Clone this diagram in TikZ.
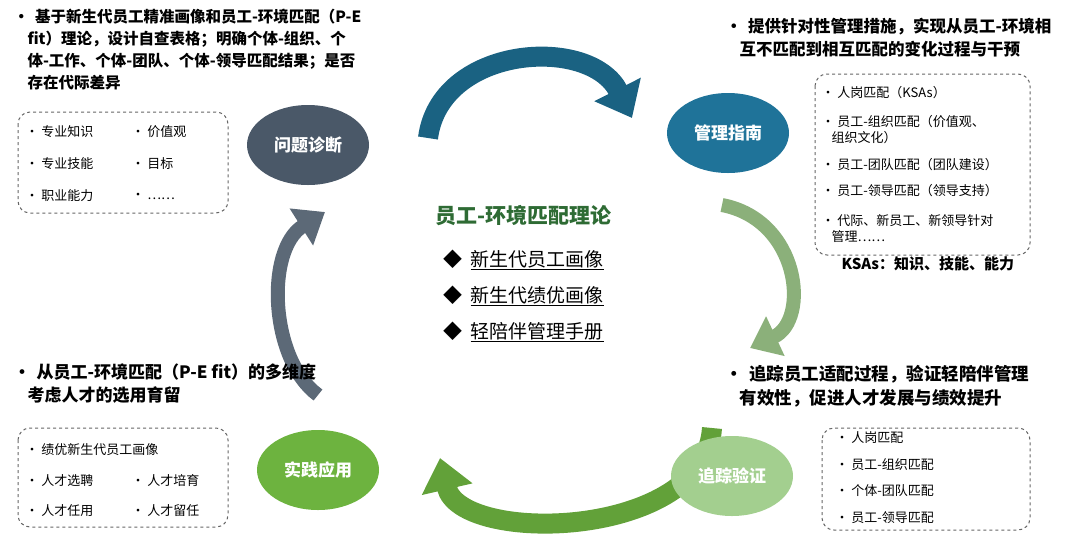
\documentclass[tikz,border=0pt]{standalone}
\usepackage{fontspec}
\setmainfont{Noto Sans CJK SC}
\usetikzlibrary{arrows.meta,shapes.geometric}
\definecolor{cA}{HTML}{4A5868}
\definecolor{cB}{HTML}{1F7399}
\definecolor{cC}{HTML}{6DB33F}
\definecolor{cD}{HTML}{A3CF8F}
\definecolor{titleg}{HTML}{2E6B34}
\tikzset{
 ell/.style={ellipse,minimum width=122pt,minimum height=80pt,text=white,font=\fontsize{17}{18}\selectfont\bfseries},
 box/.style={draw=gray!80!black,dashed,rounded corners=12pt,line width=1pt},
 head/.style={anchor=north west,align=left,font=\fontsize{15.5}{22}\selectfont\bfseries},
 item/.style={anchor=west,font=\fontsize{13}{16}\selectfont},
 cent/.style={anchor=west,font=\fontsize{19}{20}\selectfont},
}
\begin{document}
\begin{tikzpicture}[x=1pt,y=-1pt]
\useasboundingbox (0,0) rectangle (1080,542);
% arrows
\draw[line width=20pt,color=cB!85!black,-{Triangle[width=50pt,length=32pt]}] (428,138) .. controls (440,45) and (590,35) .. (632,118);
\draw[line width=14pt,color=cD!85!black,-{Triangle[width=42pt,length=28pt]}] (722,205) .. controls (800,220) and (810,320) .. (750,348);
\draw[line width=20pt,color=cC!90!black,-{Triangle[width=50pt,length=32pt]}] (712,428) .. controls (705,540) and (460,545) .. (440,458);
\draw[line width=14pt,color=cA!90!white,-{Triangle[width=42pt,length=28pt]}] (318,395) .. controls (270,360) and (265,250) .. (325,212);
% ellipses
\node[ell,fill=cA] (p1) at (308,145) {问题诊断};
\node[ell,fill=cB] (p2) at (728,133) {管理指南};
\node[ell,fill=cC] (p3) at (318,470) {实践应用};
\node[ell,fill=cD] (p4) at (732,476) {追踪验证};
% center
\node[anchor=west,text=titleg,font=\fontsize{21}{22}\selectfont\bfseries] (t) at (432,216) {员工-环境匹配理论};
\node[cent] (c1) at (440,260) {◆\hspace{8pt}\underline{新生代员工画像}};
\node[cent] (c2) at (440,296) {◆\hspace{8pt}\underline{新生代绩优画像}};
\node[cent] (c3) at (440,332) {◆\hspace{8pt}\underline{轻陪伴管理手册}};
% top-left
\node[head] (h1) at (10,6) {•\hspace{6pt}基于新生代员工精准画像和员工-环境匹配（P-E\\\hspace{14pt}fit）理论，设计自查表格；明确个体-组织、个\\\hspace{14pt}体-工作、个体-团队、个体-领导匹配结果；是否\\\hspace{14pt}存在代际差异};
\draw[box] (18,112) rectangle (228,213);
\node[item] at (22,132) {• 专业知识};
\node[item] at (22,164) {• 专业技能};
\node[item] at (22,196) {• 职业能力};
\node[item] at (128,132) {• 价值观};
\node[item] at (128,164) {• 目标};
\node[item] at (128,196) {• ……};
% top-right
\node[head,font=\fontsize{16.5}{23}\selectfont\bfseries] (h2) at (722,15) {•\hspace{6pt}提供针对性管理措施，实现从员工-环境相\\\hspace{14pt}互不匹配到相互匹配的变化过程与干预};
\draw[box] (815,74) rectangle (1030,255);
\node[item] at (818,93) {• 人岗匹配（KSAs）};
\node[item,align=left] at (818,130) {• 员工-组织匹配（价值观、\\\hspace{10pt}组织文化）};
\node[item] at (818,165) {• 员工-团队匹配（团队建设）};
\node[item] at (818,191) {• 员工-领导匹配（领导支持）};
\node[item,align=left] at (818,229) {• 代际、新员工、新领导针对\\\hspace{10pt}管理……};
\node[anchor=west,font=\fontsize{15}{16}\selectfont\bfseries] at (838,264) {KSAs：知识、技能、能力};
% bottom-left
\node[head,font=\fontsize{17}{23}\selectfont\bfseries] (h3) at (10,360) {•\hspace{6pt}从员工-环境匹配（P-E fit）的多维度\\\hspace{14pt}考虑人才的选用育留};
\draw[box] (18,428) rectangle (228,527);
\node[item] at (22,450) {• 绩优新生代员工画像};
\node[item] at (22,481) {• 人才选聘};
\node[item] at (22,511) {• 人才任用};
\node[item] at (128,481) {• 人才培育};
\node[item] at (128,511) {• 人才留任};
% bottom-right
\node[head,font=\fontsize{17.5}{24}\selectfont\bfseries] (h4) at (722,362) {•\hspace{6pt}追踪员工适配过程，验证轻陪伴管理\\\hspace{14pt}有效性，促进人才发展与绩效提升};
\draw[box] (822,428) rectangle (1030,530);
\node[item] at (832,438) {• 人岗匹配};
\node[item] at (832,465) {• 员工-组织匹配};
\node[item] at (832,491) {• 个体-团队匹配};
\node[item] at (832,518) {• 员工-领导匹配};
\end{tikzpicture}
\end{document}
